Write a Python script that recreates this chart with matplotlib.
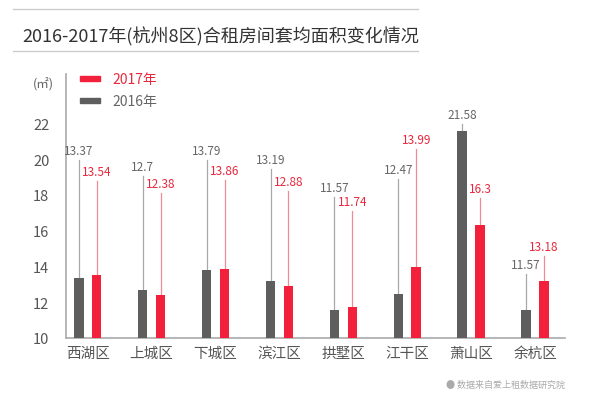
import matplotlib
matplotlib.use("Agg")
import matplotlib.pyplot as plt
import numpy as np

plt.rcParams['font.family'] = ['Noto Sans CJK SC', 'DejaVu Sans']

# dados
distritos = ['西湖区', '上城区', '下城区', '滨江区', '拱墅区', '江干区', '萧山区', '余杭区']
area_2016 = [13.37, 12.7, 13.79, 13.19, 11.57, 12.47, 21.58, 11.57]
area_2017 = [13.54, 12.38, 13.86, 12.88, 11.74, 13.99, 16.3, 13.18]

# altura onde termina a linha de chamada (layout do rotulo)
topo_2016 = [19.94, 19.05, 19.94, 19.44, 17.88, 18.88, 21.96, 13.58]
topo_2017 = [18.77, 18.10, 18.83, 18.21, 17.09, 20.56, 17.82, 14.58]

cinza = '#5e5e5e'
vermelho = '#f2203a'

fig = plt.figure(figsize=(6, 4.02), dpi=100)
ax = fig.add_axes([0.11, 0.157, 0.832, 0.656])

x = np.arange(len(distritos))
off = 0.14
w = 0.15

ax.bar(x - off, [v - 10 for v in area_2016], w, bottom=10, color=cinza, zorder=3)
ax.bar(x + off, [v - 10 for v in area_2017], w, bottom=10, color=vermelho, zorder=3)

# linhas e rotulos
for i in range(len(distritos)):
    ax.plot([x[i] - off, x[i] - off], [area_2016[i], topo_2016[i]], color='#a8a8a8', lw=0.9, zorder=2)
    ax.plot([x[i] + off, x[i] + off], [area_2017[i], topo_2017[i]], color='#f28a96', lw=0.9, zorder=2)
    ax.text(x[i] - off, topo_2016[i] + 0.15, str(area_2016[i]), ha='center', va='bottom',
            fontsize=8.5, color='#666666')
    ax.text(x[i] + off, topo_2017[i] + 0.15, str(area_2017[i]), ha='center', va='bottom',
            fontsize=8.5, color='#e8283c')

ax.set_xlim(-0.34, 7.47)
ax.set_ylim(10, 24.75)
ax.set_yticks(range(10, 23, 2))
ax.set_xticks(x)
ax.set_xticklabels(distritos, fontsize=10.5, color='#555555')
ax.tick_params(axis='y', length=0, labelsize=10.5, labelcolor='#555555', pad=12)
ax.tick_params(axis='x', length=0, pad=6)
for s in ['top', 'right']:
    ax.spines[s].set_visible(False)
ax.spines['left'].set_color('#aaaaaa')
ax.spines['bottom'].set_color('#aaaaaa')
ax.spines['left'].set_linewidth(1.2)
ax.spines['bottom'].set_linewidth(1.2)

# unidade
fig.text(0.073, 1 - 85 / 402, '(㎡)', fontsize=9, color='#666666', ha='center', va='center')

# legenda
fig.patches.append(plt.Rectangle((80 / 600, 1 - 82 / 402), 20 / 600, 5 / 402,
                                 transform=fig.transFigure, color=vermelho))
fig.patches.append(plt.Rectangle((80 / 600, 1 - 104 / 402), 20 / 600, 5 / 402,
                                 transform=fig.transFigure, color=cinza))
fig.text(112 / 600, 1 - 80 / 402, '2017年', fontsize=10, color='#e8283c', va='center')
fig.text(112 / 600, 1 - 102 / 402, '2016年', fontsize=10, color='#666666', va='center')

# titulo
fig.text(22 / 600, 1 - 37 / 402, '2016-2017年(杭州8区)合租房间套均面积变化情况',
         fontsize=13, color='#333333', va='center', weight='light')
fig.add_artist(plt.Line2D([13 / 600, 418 / 600], [1 - 10 / 402, 1 - 10 / 402],
                          color='#cccccc', lw=1, transform=fig.transFigure))
fig.add_artist(plt.Line2D([13 / 600, 418 / 600], [1 - 52 / 402, 1 - 52 / 402],
                          color='#cccccc', lw=1, transform=fig.transFigure))

# fonte
fig.text(565 / 600, 1 - 385 / 402, '● 数据来自爱上租数据研究院', fontsize=6.5,
         color='#aaaaaa', ha='right', va='center')

fig.savefig('out.png', dpi=100)
